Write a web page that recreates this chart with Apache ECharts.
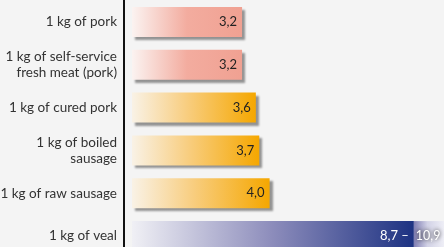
<!DOCTYPE html>
<html>
<head>
<meta charset="utf-8">
<script src="https://cdn.jsdelivr.net/npm/echarts@6/dist/echarts.min.js"></script>
<style>
  html, body { margin: 0; padding: 0; background: #f4f4f4; }
  #main { width: 444px; height: 247px; }
</style>
</head>
<body>
<div id="main"></div>
<script>
// categories, top to bottom
const categories = [
  '1 kg of pork',
  '1 kg of self-service\nfresh meat (pork)',
  '1 kg of cured pork',
  '1 kg of boiled\nsausage',
  '1 kg of raw sausage',
  '1 kg of veal'
];
// single values for the first five products
const prices = [3.2, 3.2, 3.6, 3.7, 4.0];
// veal is given as a range: low – high
const vealRange = [8.7, 10.9];

const fmt = v => v.toFixed(1).replace('.', ',');
const fontFamily = 'Lato, sans-serif';

const grad = (stops) => new echarts.graphic.LinearGradient(0, 0, 1, 0,
  stops.map(([offset, color]) => ({ offset, color })));

const salmon = grad([[0, '#fbf3f1'], [0.5, '#f3ac9f'], [1, '#f0a192']]);
const orange = grad([[0, '#f9f2e6'], [0.45, '#f8cd7e'], [1, '#f5a700']]);
const navy = grad([[0, '#f0f0f5'], [0.5, '#8c8cbb'], [1, '#1d3282']]);
const lilac = grad([[0, '#807eb3'], [0.45, '#d2d2e6'], [1, '#eeeef6']]);

const shadow = {
  shadowColor: 'rgba(0,0,0,0.4)',
  shadowBlur: 2,
  shadowOffsetX: 3,
  shadowOffsetY: 3
};

const chart = echarts.init(document.getElementById('main'));

const priceData = categories.map((c, i) => i < prices.length ? {
  value: prices[i],
  itemStyle: Object.assign({ color: i < 2 ? salmon : orange }, shadow)
} : '-');
const lowData = categories.map((c, i) => i === categories.length - 1 ? vealRange[0] : '-');
const highData = categories.map((c, i) => i === categories.length - 1 ? +(vealRange[1] - vealRange[0]).toFixed(1) : '-');

chart.setOption({
  backgroundColor: '#f4f4f4',
  animation: false,
  grid: { left: 124, right: 0, top: 0.5, bottom: -10.5, containLabel: false, outerBoundsMode: 'none' },
  xAxis: [
    { type: 'value', min: -0.2326, max: 9.07, show: false },
    { type: 'value', min: -0.247, max: 9.63, show: false }
  ],
  yAxis: {
    type: 'category',
    inverse: true,
    data: categories,
    axisLine: { show: true, onZero: false, lineStyle: { color: '#111', width: 2 } },
    axisTick: { show: false },
    splitLine: { show: false },
    axisLabel: {
      margin: 7,
      color: '#333',
      fontFamily,
      fontSize: 13.5,
      lineHeight: 16,
      align: 'right'
    }
  },
  series: [
    {
      name: 'price',
      type: 'bar',
      xAxisIndex: 0,
      barWidth: 30,
      barGap: '-100%',
      data: priceData,
      label: {
        show: true,
        position: 'insideRight',
        distance: 5,
        color: '#222',
        fontFamily,
        fontSize: 13,
        formatter: p => fmt(p.value)
      }
    },
    {
      name: 'veal low',
      type: 'bar',
      xAxisIndex: 1,
      stack: 'veal',
      barWidth: 30,
      barGap: '-100%',
      data: lowData,
      itemStyle: { color: navy },
      label: {
        show: true,
        position: 'insideRight',
        distance: 5,
        color: '#fff',
        fontFamily,
        fontSize: 13,
        formatter: p => fmt(p.value) + ' –'
      }
    },
    {
      name: 'veal high',
      type: 'bar',
      xAxisIndex: 1,
      stack: 'veal',
      barWidth: 30,
      barGap: '-100%',
      data: highData,
      itemStyle: { color: lilac },
      label: {
        show: true,
        position: 'insideLeft',
        distance: 2,
        color: '#fff',
        fontFamily,
        fontSize: 12.5,
        textShadowColor: 'rgba(0,0,0,1)',
        textShadowBlur: 4,
        formatter: () => fmt(vealRange[1])
      }
    }
  ]
});
</script>
</body>
</html>
